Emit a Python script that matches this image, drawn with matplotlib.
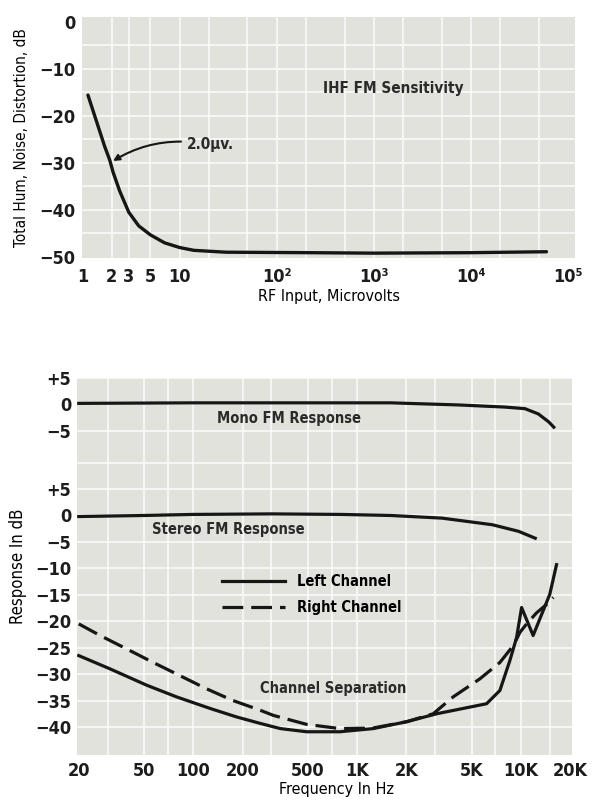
import matplotlib
matplotlib.use("Agg")
import matplotlib.pyplot as plt
from matplotlib.lines import Line2D

plt.rcParams["font.family"] = ["DejaVu Sans"]
plt.rcParams["font.stretch"] = "condensed"

# --- top chart: IHF FM sensitivity ---
rf_uv = [1.14, 1.70, 1.91, 2.07, 2.42, 3.0, 3.8, 5.0, 7.0, 10.0, 14.0, 30, 220, 1000, 10000, 60000]
thd_db = [-15.6, -26.6, -29.4, -32.0, -36.0, -40.5, -43.4, -45.3, -47.0, -48.0, -48.6, -49.0, -49.1,
          -49.2, -49.1, -48.9]
rf_ticks = [1, 2, 3, 5, 10, 100, 1000, 10000, 100000]
rf_labels = ["1", "2", "3", "5", "10", "10²", "10³", "10⁴", "10⁵"]
thd_ticks = [0, -10, -20, -30, -40, -50]
thd_labels = ["0", "−10", "−20", "−30", "−40", "−50"]

# --- bottom chart: frequency response / separation ---
mono_hz = [20, 100, 500, 1600, 4200, 8000, 10600, 12800, 14800, 15900]
mono_db = [0.2, 0.3, 0.3, 0.3, -0.1, -0.5, -0.8, -1.8, -3.3, -4.3]
stereo_hz = [20, 50, 100, 300, 800, 1600, 3300, 6700, 9700, 12250]
stereo_db = [-0.2, 0.0, 0.2, 0.3, 0.2, 0.0, -0.5, -1.75, -3.0, -4.3]
left_hz = [20, 31, 52, 79, 127, 184, 255, 340, 492, 787, 1256, 2009, 3062, 6180,
           7450, 8580, 9420, 10110, 11890, 15030, 16520]
left_db = [-26.5, -29.0, -32.1, -34.3, -36.5, -38.1, -39.3, -40.3, -40.9, -40.9, -40.3,
           -39.0, -37.5, -35.6, -33.1, -27.4, -23.1, -17.4, -22.7, -14.9, -9.3]
right_hz = [20, 27, 39, 57, 83, 121, 175, 255, 308, 492, 787, 1250, 2009, 2917,
            3866, 5620, 7450, 9000, 9880, 10850, 12490, 14390, 15790]
right_db = [-20.5, -22.7, -25.2, -27.8, -30.3, -32.8, -35.0, -36.8, -37.8, -39.5, -40.3,
            -40.2, -39.0, -37.5, -34.3, -30.9, -27.8, -24.6, -22.1, -20.5, -18.4, -16.8, -15.5]
freq_ticks = [20, 50, 100, 200, 500, 1000, 2000, 5000, 10000, 20000]
freq_labels = ["20", "50", "100", "200", "500", "1K", "2K", "5K", "10K", "20K"]
resp_ticks = [-40, -35, -30, -25, -20, -15, -10, -5, 0, 5]
resp_labels = ["−40", "−35", "−30", "−25", "−20", "−15", "−10", "−5", "0", "+5"]
mono_ticks = [-5, 0, 5]
mono_labels = ["−5", "0", "+5"]

MONO_OFFSET = 21  # mono block is drawn above the stereo block on the same scale
INK = "#161616"
PAPER = "#e2e2dc"


def style_axes(ax):
    ax.set_facecolor(PAPER)
    for s in ax.spines.values():
        s.set_visible(False)
    ax.tick_params(length=0, labelsize=13, colors="#1c1c1c")
    for lab in ax.get_xticklabels() + ax.get_yticklabels():
        lab.set_fontweight("bold")


fig = plt.figure(figsize=(5.92, 8.01), dpi=100)
fig.patch.set_facecolor("white")

# top chart
ax1 = fig.add_axes([0.1385, 0.6775, 0.8328, 0.3013])
ax1.set_xscale("log")
ax1.set_xlim(0.99, 1.18e5)
ax1.set_ylim(-50.3, 1.0)
for x in [2, 3, 5, 10, 20, 50, 100, 200, 500, 1000, 2000, 5000, 10000, 20000, 50000]:
    ax1.axvline(x, color="white", lw=1.2, alpha=0.8, zorder=0)
for y in [-5, -10, -15, -20, -25, -30, -35, -40, -45]:
    ax1.axhline(y, color="white", lw=1.2, alpha=0.8, zorder=0)
ax1.plot(rf_uv, thd_db, color=INK, lw=2.4, solid_capstyle="round")
ax1.set_xticks(rf_ticks)
ax1.set_xticklabels(rf_labels)
ax1.minorticks_off()
ax1.set_yticks(thd_ticks)
ax1.set_yticklabels(thd_labels)
style_axes(ax1)
ax1.tick_params(axis="x", pad=7)
ax1.tick_params(axis="y", pad=5)
ax1.set_xlabel("RF Input, Microvolts", fontsize=11.5, labelpad=2)
ax1.set_ylabel("Total Hum, Noise, Distortion, dB", fontsize=11, labelpad=7)
ax1.text(1585, -14.1, "IHF FM Sensitivity", fontsize=11, ha="center", va="center",
         color="#2a2a2a", fontweight="bold")
ax1.annotate("2.0µv.", xy=(2.07, -29.6), xytext=(11.8, -26.2), fontsize=11,
             ha="left", va="center", color="#2a2a2a", fontweight="bold",
             arrowprops=dict(arrowstyle="-|>", connectionstyle="arc3,rad=0.2",
                             lw=1.5, color=INK, shrinkA=2, shrinkB=0, mutation_scale=9))

# bottom chart
ax2 = fig.add_axes([0.130, 0.0574, 0.836, 0.4707])
ax2.set_xscale("log")
ax2.set_xlim(19.5, 20500)
ax2.set_ylim(-45.3, 26.0)
for x in [30, 50, 70, 100, 200, 300, 500, 700, 1000, 2000, 3000, 5000, 7000, 10000, 15000]:
    ax2.axvline(x, color="white", lw=1.2, alpha=0.8, zorder=0)
for y in resp_ticks + [t + MONO_OFFSET for t in mono_ticks] + [10]:
    ax2.axhline(y, color="white", lw=1.2, alpha=0.8, zorder=0)

ax2.plot(mono_hz, [v + MONO_OFFSET for v in mono_db], color=INK, lw=2.3)
ax2.plot(stereo_hz, stereo_db, color=INK, lw=2.3)
ax2.plot(left_hz, left_db, color=INK, lw=2.3)
ax2.plot(right_hz, right_db, color=INK, lw=2.3, dashes=(6.5, 2.5))

ax2.set_xticks(freq_ticks)
ax2.set_xticklabels(freq_labels)
ax2.minorticks_off()
ax2.set_yticks(resp_ticks + [t + MONO_OFFSET for t in mono_ticks])
ax2.set_yticklabels(resp_labels + mono_labels)
style_axes(ax2)
ax2.tick_params(axis="x", pad=5)
ax2.tick_params(axis="y", pad=4)
ax2.set_xlabel("Frequency In Hz", fontsize=11.5, labelpad=0)
ax2.xaxis.set_label_coords(0.525, -0.071)
ax2.set_ylabel("Response In dB", fontsize=12, labelpad=6)

txt = dict(fontsize=10.5, ha="center", va="center", color="#2a2a2a", fontweight="bold")
ax2.text(384, 18.4, "Mono FM Response", **txt)
ax2.text(164, -2.6, "Stereo FM Response", **txt)
ax2.text(716, -32.8, "Channel Separation", **txt)

handles = [Line2D([], [], color=INK, lw=2.3),
           Line2D([], [], color=INK, lw=2.3, dashes=(6.5, 2.5))]
ax2.legend(handles, ["Left Channel", "Right Channel"], loc="center left",
           bbox_to_anchor=(0.282, 0.4257), frameon=False,
           handlelength=4.3, handletextpad=0.8, labelspacing=0.7, borderaxespad=0,
           prop={"weight": "bold", "size": 10.5, "stretch": "condensed"})

fig.savefig("out.png", dpi=100)
